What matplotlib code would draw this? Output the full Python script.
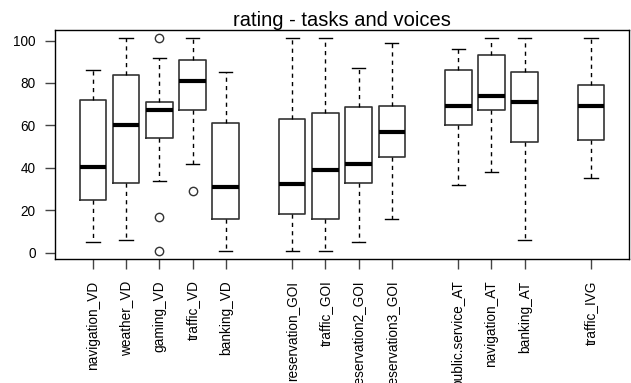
import matplotlib
matplotlib.use("Agg")
import matplotlib.pyplot as plt

plt.rcParams['font.family'] = ['Liberation Sans', 'DejaVu Sans']

labels = ['navigation_VD', 'weather_VD', 'gaming_VD', 'traffic_VD', 'banking_VD',
          'reservation_GOI', 'traffic_GOI', 'reservation2_GOI', 'reservation3_GOI',
          'public.service_AT', 'navigation_AT', 'banking_AT', 'traffic_IVG']
whisker_lo = [5, 6, 34, 42, 1, 1, 1, 5, 16, 32, 38, 6, 35]
q1 = [25, 33, 54, 67.5, 16, 18, 16, 33, 45, 60, 67.5, 52, 53]
medians = [40.5, 60, 67.5, 81, 31, 32.5, 39, 42, 57, 69, 74, 71, 69]
q3 = [72, 84, 71, 91, 61, 63, 66, 68.5, 69, 86, 93, 85, 79]
whisker_hi = [86, 101, 92, 101, 85, 101, 101, 87, 99, 96, 101, 101, 101]
outliers = [[], [], [101, 17, 1], [29], [], [], [], [], [], [], [], [], []]

# groups separated by an empty slot
positions = [1, 2, 3, 4, 5, 7, 8, 9, 10, 12, 13, 14, 16]

stats = []
for i, lab in enumerate(labels):
    stats.append(dict(label=lab, whislo=whisker_lo[i], q1=q1[i], med=medians[i],
                      q3=q3[i], whishi=whisker_hi[i], fliers=outliers[i]))

fig = plt.figure(figsize=(6.31, 3.83), dpi=100)
ax = fig.add_axes([0.0872, 0.3238, 0.9096, 0.5979])

ax.bxp(stats, positions=positions, widths=0.8, capwidths=0.4,
       boxprops=dict(color='#333333', linewidth=1.2),
       medianprops=dict(color='black', linewidth=3, solid_capstyle='butt'),
       whiskerprops=dict(color='black', linewidth=1, linestyle=(0, (3, 3))),
       capprops=dict(color='black', linewidth=1),
       flierprops=dict(marker='o', markerfacecolor='none', markeredgecolor='#333333',
                       markersize=6, markeredgewidth=1))

ax.set_xlim(-0.14, 17.14)
ax.set_ylim(-3, 105)
ax.set_yticks([0, 20, 40, 60, 80, 100])
ax.set_xticks(positions)
ax.set_xticklabels(labels, rotation=90)
ax.tick_params(axis='both', labelsize=9.8, length=7, width=1, color='#444444')
ax.tick_params(axis='x', pad=8.5)
ax.tick_params(axis='y', pad=7)
for s in ax.spines.values():
    s.set_linewidth(1)
ax.set_title('rating - tasks and voices', fontsize=14.5, pad=3)

fig.savefig('out.png', dpi=100)
